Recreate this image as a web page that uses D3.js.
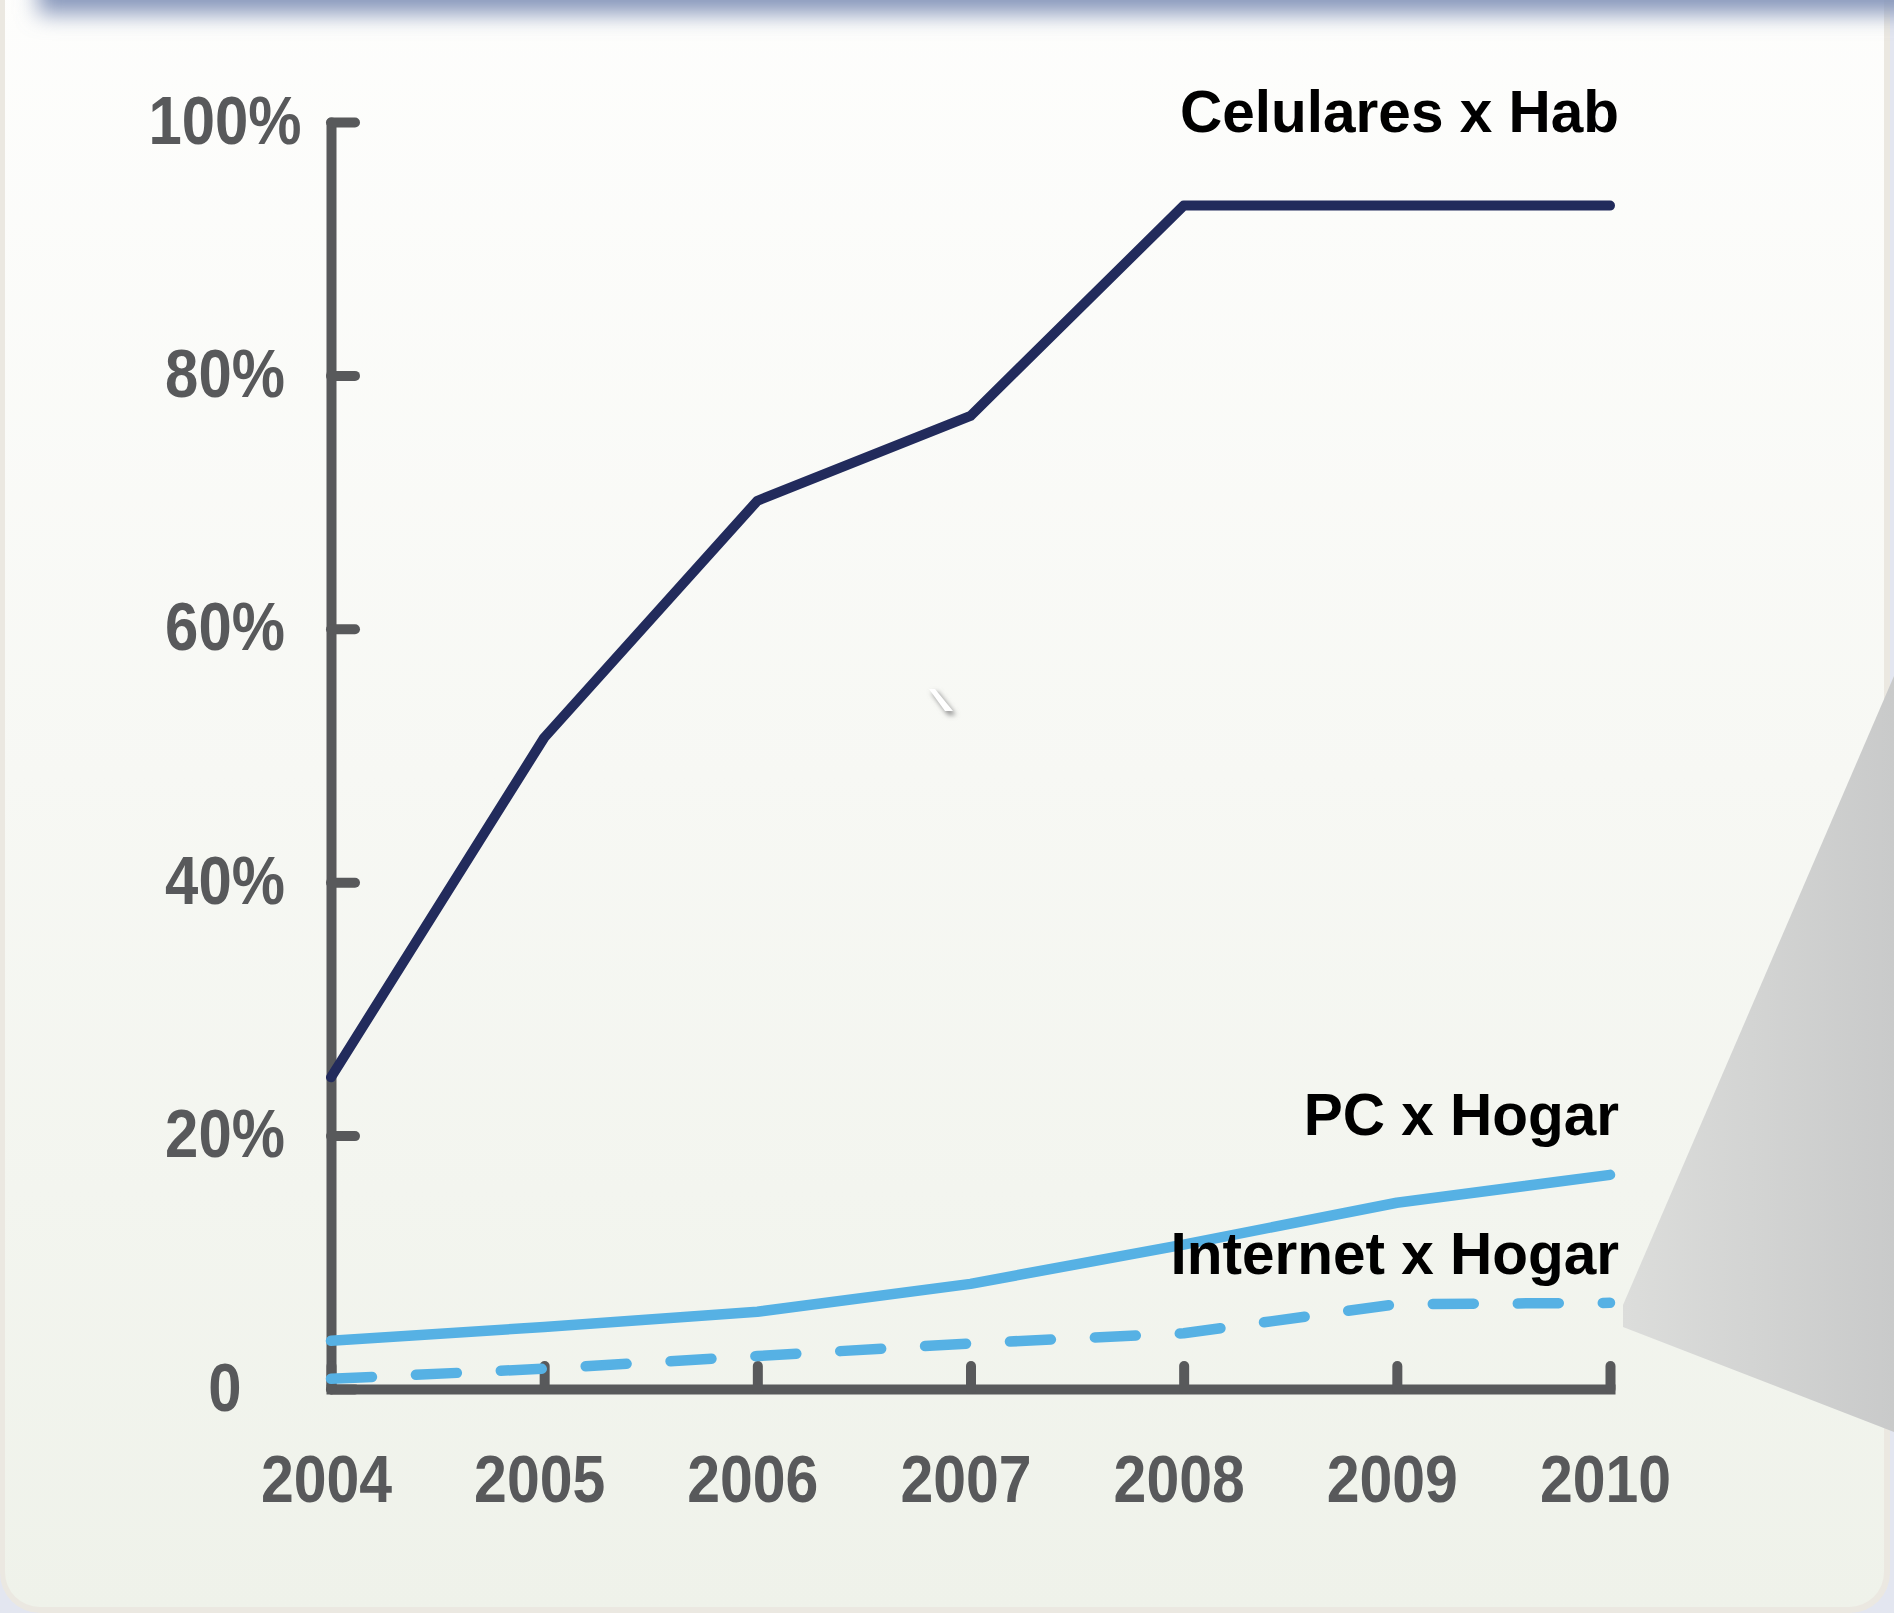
<!DOCTYPE html>
<html>
<head>
<meta charset="utf-8">
<script src="https://cdn.jsdelivr.net/npm/d3@7"></script>
<style>
  body { margin: 0; padding: 0; background: #e3e6f0; }
  svg { display: block; }
</style>
</head>
<body>
<script>
// data
var years = [2004, 2005, 2006, 2007, 2008, 2009, 2010];
var celulares = [24.6, 51.4, 70.1, 76.8, 93.4, 93.4, 93.4];
var pcHogar = [3.8, 4.9, 6.1, 8.3, 11.4, 14.7, 16.9];
var internetHogar = [0.8, 1.6, 2.6, 3.6, 4.4, 6.7, 6.8];
var seriesNames = ["Celulares x Hab", "PC x Hogar", "Internet x Hogar"];
var yTicks = [0, 20, 40, 60, 80, 100];
var yTickLabels = ["0", "20%", "40%", "60%", "80%", "100%"];

var width = 1894;
var height = 1613;
var axisColor = "#58595b";
var squeeze = 0.88; // axis numbers are a condensed face

var svg = d3.select("body")
    .append("svg")
    .attr("width", width)
    .attr("height", height);

var defs = svg.append("defs");
var panelGrad = defs.append("linearGradient")
    .attr("id", "panelGrad")
    .attr("x1", 0).attr("y1", 0).attr("x2", 0).attr("y2", 1);
panelGrad.append("stop").attr("offset", "0%").attr("stop-color", "#fefefd");
panelGrad.append("stop").attr("offset", "50%").attr("stop-color", "#f7f8f4");
panelGrad.append("stop").attr("offset", "100%").attr("stop-color", "#eff2ea");

var calloutGrad = defs.append("linearGradient")
    .attr("id", "calloutGrad")
    .attr("x1", 0).attr("y1", 0).attr("x2", 1).attr("y2", 0);
calloutGrad.append("stop").attr("offset", "0%").attr("stop-color", "#dcdddb");
calloutGrad.append("stop").attr("offset", "100%").attr("stop-color", "#c9caca");

defs.append("filter").attr("id", "blur")
    .attr("x", "-10%").attr("y", "-200%").attr("width", "120%").attr("height", "500%")
    .append("feGaussianBlur").attr("stdDeviation", 11);
defs.append("filter").attr("id", "soft")
    .attr("x", "-100%").attr("y", "-100%").attr("width", "300%").attr("height", "300%")
    .append("feGaussianBlur").attr("stdDeviation", 2.5);

// panel frame
svg.append("rect")
    .attr("x", 0).attr("y", -60)
    .attr("width", 1890).attr("height", 1673)
    .attr("rx", 40)
    .attr("fill", "#ebe8e1");
svg.append("rect")
    .attr("x", 5).attr("y", -60)
    .attr("width", 1879).attr("height", 1667)
    .attr("rx", 35)
    .attr("fill", "url(#panelGrad)");

// blue header shadow at the top
svg.append("rect")
    .attr("x", 38).attr("y", -50)
    .attr("width", 1900).attr("height", 64)
    .attr("fill", "#8797bb")
    .attr("filter", "url(#blur)");

// little stray mark in the middle of the chart
svg.append("path")
    .attr("d", "M931,692 L938,692 L956,715 L948,715 Z")
    .attr("fill", "#8f8f8f")
    .attr("filter", "url(#soft)");
svg.append("path")
    .attr("d", "M929,689 L935,689 L953,711 L945,711 Z")
    .attr("fill", "#ffffff");

var x = d3.scaleLinear().domain([2004, 2010]).range([331, 1610]);
var y = d3.scaleLinear().domain([0, 100]).range([1389, 122]);

// y axis, ticks pointing into the plot
var yAxis = d3.axisRight(y)
    .tickValues(yTicks)
    .tickSize(24)
    .tickSizeOuter(0)
    .tickFormat(function(d, i) { return yTickLabels[i]; });

var gy = svg.append("g")
    .attr("transform", "translate(" + x(2004) + ",0)")
    .call(yAxis);
gy.select(".domain")
    .attr("stroke", axisColor)
    .attr("stroke-width", 10)
    .attr("stroke-linecap", "round");
gy.selectAll(".tick line")
    .attr("stroke", axisColor)
    .attr("stroke-width", 10)
    .attr("stroke-linecap", "round");
gy.selectAll(".tick text")
    .attr("x", -106 / squeeze)
    .attr("dy", null)
    .attr("y", 21)
    .attr("transform", "scale(" + squeeze + ",1)")
    .attr("text-anchor", "middle")
    .attr("fill", axisColor)
    .style("font-family", "'Liberation Sans', Arial, sans-serif")
    .style("font-weight", "bold")
    .style("font-size", "68px");

// x axis, ticks pointing up
var xAxis = d3.axisTop(x)
    .tickValues(years)
    .tickSize(23)
    .tickSizeOuter(0)
    .tickFormat(d3.format("d"));

var gx = svg.append("g")
    .attr("transform", "translate(0," + y(0) + ")")
    .call(xAxis);
gx.select(".domain")
    .attr("stroke", axisColor)
    .attr("stroke-width", 10)
    .attr("stroke-linecap", "square");
gx.selectAll(".tick line")
    .attr("stroke", axisColor)
    .attr("stroke-width", 10)
    .attr("stroke-linecap", "round");
gx.selectAll(".tick text")
    .attr("x", -5 / squeeze)
    .attr("y", 113)
    .attr("dy", null)
    .attr("transform", "scale(" + squeeze + ",1)")
    .attr("text-anchor", "middle")
    .attr("fill", axisColor)
    .style("font-family", "'Liberation Sans', Arial, sans-serif")
    .style("font-weight", "bold")
    .style("font-size", "67px");

// lines
var line = d3.line()
    .x(function(d, i) { return x(years[i]); })
    .y(function(d) { return y(d); });

var series = [
    {values: celulares, color: "#222b5c", width: 10, dash: null},
    {values: pcHogar, color: "#56b1e4", width: 10.5, dash: null},
    {values: internetHogar, color: "#56b1e4", width: 10.5, dash: "41,44"}
];

svg.selectAll("path.serie")
    .data(series)
    .enter()
    .append("path")
    .attr("class", "serie")
    .attr("d", function(d) { return line(d.values); })
    .attr("fill", "none")
    .attr("stroke", function(d) { return d.color; })
    .attr("stroke-width", function(d) { return d.width; })
    .attr("stroke-dasharray", function(d) { return d.dash; })
    .attr("stroke-linecap", "round")
    .attr("stroke-linejoin", "round");

// series names, right aligned above the 2010 end of each line
var labelDy = [-74, -40, -29];
svg.selectAll("text.serieName")
    .data(series)
    .enter()
    .append("text")
    .attr("class", "serieName")
    .attr("x", x(2010) + 9)
    .attr("y", function(d, i) { return y(d.values[d.values.length - 1]) + labelDy[i]; })
    .attr("text-anchor", "end")
    .attr("fill", "#000")
    .style("font-family", "'Liberation Sans', Arial, sans-serif")
    .style("font-weight", "bold")
    .style("font-size", "58.5px")
    .text(function(d, i) { return seriesNames[i]; });

// grey callout wedge on the right
svg.append("path")
    .attr("d", "M1623,1305 L1894,676 L1894,1432 L1623,1327 Z")
    .attr("fill", "url(#calloutGrad)");
</script>
</body>
</html>
